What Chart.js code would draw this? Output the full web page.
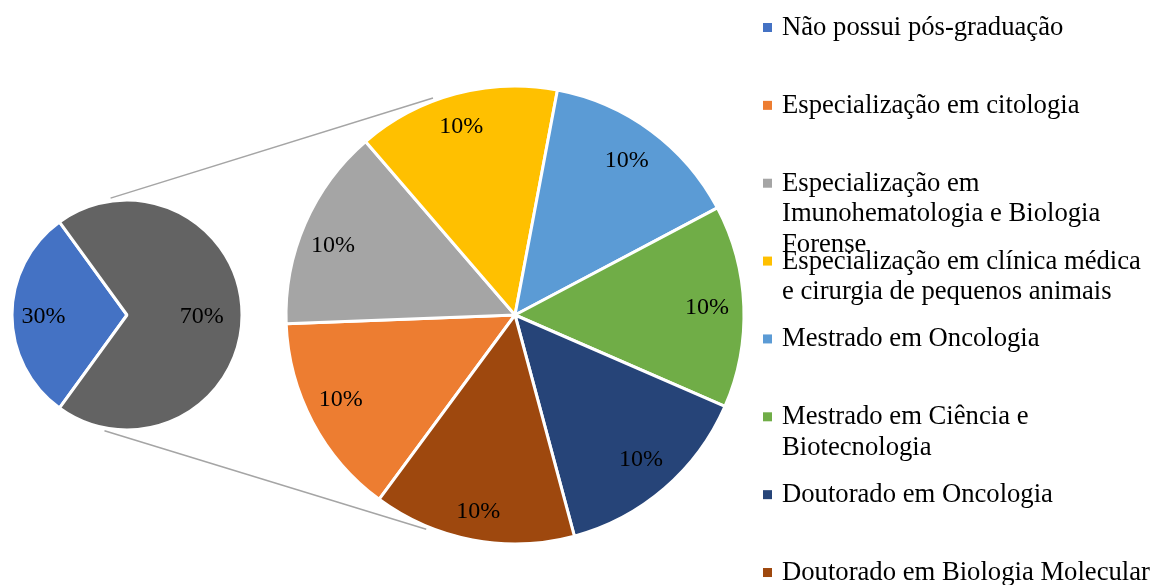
<!DOCTYPE html>
<html><head><meta charset="utf-8">
<script src="https://cdn.jsdelivr.net/npm/chart.js@4/dist/chart.umd.min.js"></script>
<style>
html,body{margin:0;padding:0;background:#fff;}
#wrap{position:relative;width:1151px;height:585px;overflow:hidden;}
#wrap canvas{position:absolute;left:0;top:0;}
</style></head><body>
<div id="wrap"><canvas id="big" width="1151" height="585"></canvas><canvas id="small" width="1151" height="585"></canvas></div>
<script>
// ---- data ----
const legendLabels = [
  'Não possui pós-graduação',
  'Especialização em citologia',
  'Especialização em Imunohematologia e Biologia Forense',
  'Especialização em clínica médica e cirurgia de pequenos animais',
  'Mestrado em Oncologia',
  'Mestrado em Ciência e Biotecnologia',
  'Doutorado em Oncologia',
  'Doutorado em Biologia Molecular'
];
const legendColors = ['#4472C4','#ED7D31','#A5A5A5','#FFC000','#5B9BD5','#70AD47','#264478','#9E480E'];
const mainLabels = ['Não possui pós-graduação', 'Possui pós-graduação'];
const mainValues = [30, 70];
const mainColors = ['#4472C4', '#636363'];
const detailLabels = legendLabels.slice(1);
const detailValues = [10, 10, 10, 10, 10, 10, 10];
const detailColors = legendColors.slice(1);

const SERIF = '"Liberation Serif", "Times New Roman", serif';
Chart.defaults.font.family = SERIF;

// label placement per slice: [radius fraction, angle offset in degrees]
function labelPlugin(id, place) {
  return {
    id,
    afterDatasetsDraw(chart) {
      const ctx = chart.ctx, meta = chart.getDatasetMeta(0);
      const vals = chart.data.datasets[0].data;
      ctx.save();
      ctx.font = '24px ' + SERIF;
      ctx.fillStyle = '#000';
      ctx.textAlign = 'center';
      ctx.textBaseline = 'middle';
      meta.data.forEach((arc, i) => {
        const mid = (arc.startAngle + arc.endAngle) / 2 + place[i][1] * Math.PI / 180;
        const r = arc.outerRadius * place[i][0];
        ctx.fillText(vals[i] + '%', arc.x + Math.cos(mid) * r, arc.y + Math.sin(mid) * r);
      });
      ctx.restore();
    }
  };
}

function wrap(ctx, text, maxW) {
  const words = text.split(' ');
  const lines = [];
  let cur = '';
  words.forEach(w => {
    const t = cur ? cur + ' ' + w : w;
    if (ctx.measureText(t).width > maxW && cur) { lines.push(cur); cur = w; }
    else cur = t;
  });
  if (cur) lines.push(cur);
  return lines;
}

const smallChart = new Chart(document.getElementById('small'), {
  type: 'pie',
  data: { labels: mainLabels, datasets: [{ data: mainValues, backgroundColor: mainColors, borderColor: '#fff', borderWidth: 3 }] },
  options: {
    responsive: false, animation: false, events: [], devicePixelRatio: 1,
    rotation: 216, radius: 115,
    layout: { padding: { left: 0, right: 897, top: 45, bottom: 0 } },
    plugins: { legend: { display: false }, tooltip: { enabled: false } }
  },
  plugins: [labelPlugin('smallLabels', [[0.727, -1.4], [0.65, 1.5]])]
});

const connectors = {
  id: 'connectors',
  beforeDatasetsDraw(chart) {
    const s = smallChart.getDatasetMeta(0).data[0];
    const b = chart.getDatasetMeta(0).data[0];
    const d = Math.PI / 180;
    const pairs = [[-98, -110.7], [101, 112.5]];
    const ctx = chart.ctx;
    ctx.save();
    ctx.strokeStyle = '#A5A5A5';
    ctx.lineWidth = 1.5;
    pairs.forEach(([a1, a2]) => {
      const r1 = s.outerRadius + 3, r2 = b.outerRadius + 3;
      ctx.beginPath();
      ctx.moveTo(s.x + Math.cos(a1 * d) * r1, s.y + Math.sin(a1 * d) * r1);
      ctx.lineTo(b.x + Math.cos(a2 * d) * r2, b.y + Math.sin(a2 * d) * r2);
      ctx.stroke();
    });
    ctx.restore();
  }
};

const sideLegend = {
  id: 'sideLegend',
  afterDraw(chart) {
    const ctx = chart.ctx;
    ctx.save();
    ctx.font = '26.67px ' + SERIF;
    ctx.textAlign = 'left';
    ctx.textBaseline = 'alphabetic';
    legendLabels.forEach((t, i) => {
      const base = 35 + i * 77.86;
      ctx.fillStyle = legendColors[i];
      ctx.fillRect(763, base - 12, 9, 9);
      ctx.fillStyle = '#000';
      wrap(ctx, t, 369).forEach((ln, j) => ctx.fillText(ln, 782, base + j * 30.5));
    });
    ctx.restore();
  }
};

new Chart(document.getElementById('big'), {
  type: 'pie',
  data: { labels: detailLabels, datasets: [{ data: detailValues, backgroundColor: detailColors, borderColor: '#fff', borderWidth: 3 }] },
  options: {
    responsive: false, animation: false, events: [], devicePixelRatio: 1,
    rotation: 216.4, radius: 229,
    layout: { padding: { left: 0, right: 121, top: 45, bottom: 0 } },
    plugins: { legend: { display: false }, tooltip: { enabled: false } }
  },
  plugins: [connectors, labelPlugin('bigLabels', [[0.846, 1.9], [0.85, -2.7], [0.854, -0.9], [0.831, -0.4], [0.839, 0.1], [0.839, -0.2], [0.875, -0.1]]), sideLegend]
});
</script>
</body></html>
